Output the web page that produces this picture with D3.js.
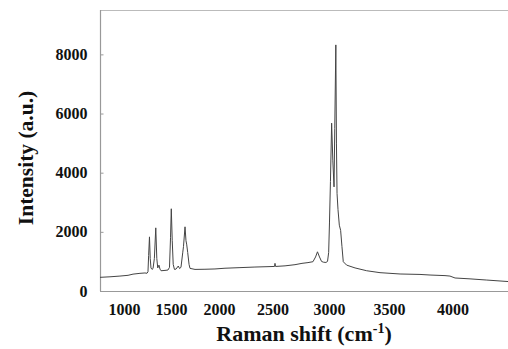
<!DOCTYPE html>
<html>
<head>
<meta charset="utf-8">
<script src="https://cdn.jsdelivr.net/npm/d3@7"></script>
<style>
  html, body { margin: 0; padding: 0; background: #fff; }
  svg { display: block; }
  text { font-family: "Liberation Serif", "Times New Roman", serif; font-weight: bold; fill: #111; }
</style>
</head>
<body>
<svg id="chart" width="508" height="349"></svg>
<script>
// ---- data ----
const xTickValues = [1000, 1500, 2000, 2500, 3000, 3500, 4000];
const yTickValues = [0, 2000, 4000, 6000, 8000];
const ramanShift = [745, 851, 957, 1043, 1096, 1170, 1223, 1245, 1255, 1262, 1271, 1279, 1287, 1298, 1309, 1323, 1338, 1349, 1359, 1372, 1383, 1394, 1415, 1447, 1468, 1484, 1495, 1503, 1513, 1523, 1536, 1552, 1576, 1589, 1604, 1622, 1630, 1646, 1656, 1663, 1674, 1688, 1698, 1750, 1854, 1958, 2056, 2196, 2336, 2430, 2518, 2522, 2527, 2611, 2699, 2761, 2814, 2858, 2881, 2898, 2916, 2934, 2950, 2973, 2987, 2997, 3004, 3012, 3022, 3032, 3042, 3048, 3057, 3062, 3067, 3075, 3086, 3097, 3108, 3119, 3147, 3217, 3314, 3425, 3587, 3744, 3823, 3941, 3980, 4020, 4138, 4270, 4437];
const intensity = [462, 480, 505, 530, 570, 597, 610, 600, 650, 1200, 1830, 1100, 780, 730, 760, 1100, 2135, 1100, 780, 875, 740, 685, 690, 700, 710, 800, 1800, 2780, 1700, 900, 730, 740, 845, 760, 800, 1290, 1500, 2170, 1700, 1585, 1300, 900, 765, 730, 735, 745, 770, 790, 810, 820, 830, 935, 830, 850, 890, 935, 960, 990, 1150, 1325, 1150, 1000, 975, 965, 1000, 1300, 2300, 3700, 5675, 4400, 3520, 5500, 8320, 5000, 3300, 2750, 2225, 2050, 1500, 990, 875, 780, 685, 620, 575, 560, 540, 520, 505, 440, 410, 370, 320];
const xTitle = "Raman shift (cm";
const xTitleSup = "-1";
const yTitle = "Intensity (a.u.)";

// ---- layout ----
const svg = d3.select("#chart");
const mLeft = 100, mTop = 10, mBottom = 291, mRight = 508;

// x axis labels in the source are unevenly spaced: piecewise-linear scale
const x = d3.scaleLinear()
  .domain([745, 1000, 1500, 2000, 2500, 3000, 3500, 4000, 4437])
  .range([mLeft, 124, 171, 219, 272.5, 329, 389, 452.5, mRight]);
const y = d3.scaleLinear().domain([0, 9500]).range([mBottom, mTop]);

// frame lines
svg.append("line").attr("x1", mLeft).attr("x2", mRight).attr("y1", mTop + 0.5).attr("y2", mTop + 0.5)
  .attr("stroke", "#bbb").attr("stroke-width", 1.2);
svg.append("line").attr("x1", mLeft).attr("x2", mRight).attr("y1", mBottom + 0.5).attr("y2", mBottom + 0.5)
  .attr("stroke", "#999").attr("stroke-width", 1.2);

// y axis
const yAxis = svg.append("g").attr("transform", `translate(${mLeft + 0.5},0)`)
  .call(d3.axisLeft(y).tickValues(yTickValues).tickFormat(d3.format("d"))
    .tickSizeInner(-3).tickSizeOuter(0).tickPadding(13));
yAxis.select(".domain").attr("stroke", "#999").attr("stroke-width", 1.2)
  .attr("d", `M0,${mTop}V${mBottom}`);
yAxis.selectAll(".tick line").attr("stroke", "#999");
yAxis.selectAll(".tick text").style("font-size", "16px").attr("fill", "#111");

// x axis (labels only)
const xAxis = svg.append("g").attr("transform", `translate(0,${mBottom})`)
  .call(d3.axisBottom(x).tickValues(xTickValues).tickFormat(d3.format("d")).tickSize(0).tickPadding(13));
xAxis.select(".domain").remove();
xAxis.selectAll(".tick text").style("font-size", "16px").attr("fill", "#111");

// spectrum line
const line = d3.line().x((d, i) => x(ramanShift[i])).y(d => y(d));
svg.append("path").datum(intensity)
  .attr("fill", "none").attr("stroke", "#444").attr("stroke-width", 1)
  .attr("stroke-linejoin", "round")
  .attr("d", line);

// axis titles
const xt = svg.append("text").attr("x", 304).attr("y", 341).attr("text-anchor", "middle")
  .style("font-size", "22px");
xt.append("tspan").text(xTitle);
xt.append("tspan").attr("dy", -8).style("font-size", "14px").text(xTitleSup);
xt.append("tspan").attr("dy", 8).text(")");

svg.append("text").attr("transform", "translate(33,158) rotate(-90)")
  .attr("text-anchor", "middle").style("font-size", "21.5px").text(yTitle);
</script>
</body>
</html>
